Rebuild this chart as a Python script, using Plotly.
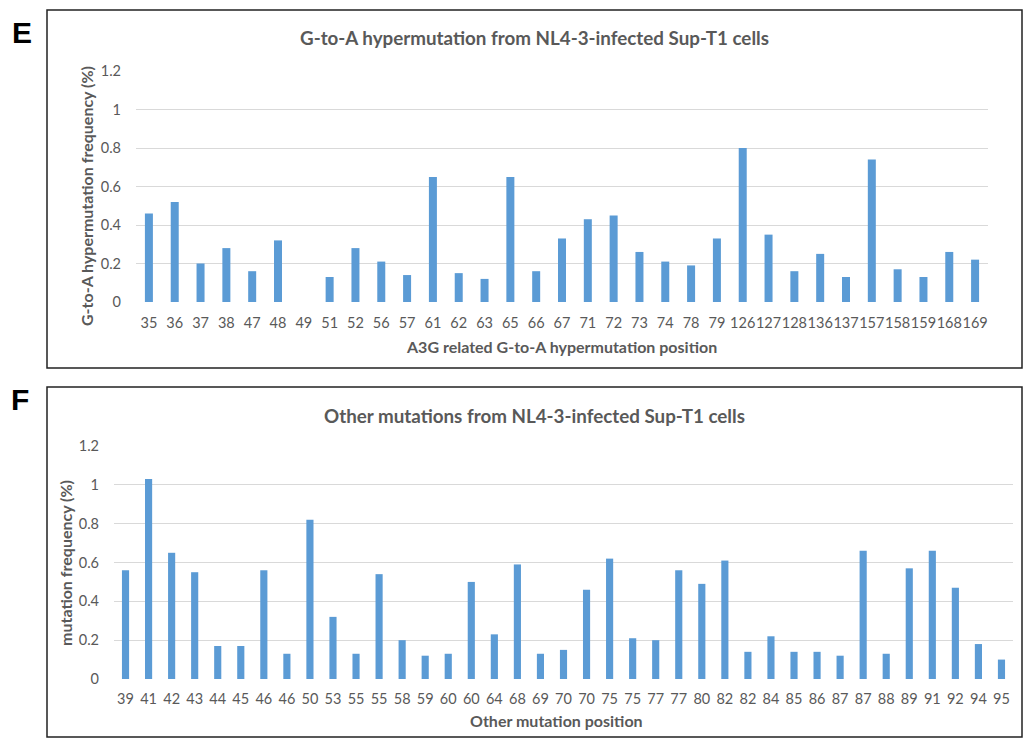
import plotly.graph_objects as go

# Panel E data
e_positions = ["35","36","37","38","47","48","49","51","52","56","57","61","62","63","65","66","67",
               "71","72","73","74","78","79","126","127","128","136","137","157","158","159","168","169"]
e_values = [0.46,0.52,0.20,0.28,0.16,0.32,0.0,0.13,0.28,0.21,0.14,0.65,0.15,0.12,0.65,0.16,0.33,
            0.43,0.45,0.26,0.21,0.19,0.33,0.80,0.35,0.16,0.25,0.13,0.74,0.17,0.13,0.26,0.22]

# Panel F data
f_positions = ["39","41","42","43","44","45","46","46","50","53","55","55","58","59","60","60","64",
               "68","69","70","70","75","75","77","77","80","82","82","84","85","86","87","87","88",
               "89","91","92","94","95"]
f_values = [0.56,1.03,0.65,0.55,0.17,0.17,0.56,0.13,0.82,0.32,0.13,0.54,0.20,0.12,0.13,0.50,0.23,
            0.59,0.13,0.15,0.46,0.62,0.21,0.20,0.56,0.49,0.61,0.14,0.22,0.14,0.14,0.12,0.66,0.13,
            0.57,0.66,0.47,0.18,0.10]

y_ticks = [0, 0.2, 0.4, 0.6, 0.8, 1.0, 1.2]
y_ticktext = ["0", "0.2", "0.4", "0.6", "0.8", "1", "1.2"]

W, H = 1027, 738
BAR = "#5b9bd5"
GRID = "#d9d9d9"
TXT = "#595959"
FONT = "Lato, 'Open Sans', sans-serif"

def px(x): return x / W
def py(y): return 1 - y / H

fig = go.Figure()
e_idx = list(range(len(e_positions)))
f_idx = list(range(len(f_positions)))
fig.add_trace(go.Bar(x=e_idx, y=e_values, marker_color=BAR, marker_line_width=0, width=0.31,
                     xaxis="x", yaxis="y", showlegend=False, hoverinfo="y"))
fig.add_trace(go.Bar(x=f_idx, y=f_values, marker_color=BAR, marker_line_width=0, width=0.31,
                     xaxis="x2", yaxis="y2", showlegend=False, hoverinfo="y"))

axis_common = dict(showline=False, zeroline=False, ticks="", automargin=False,
                   tickfont=dict(family=FONT, size=14.5, color=TXT))

fig.update_layout(
    width=W, height=H, margin=dict(l=0, r=0, t=0, b=0),
    paper_bgcolor="white", plot_bgcolor="white",
    font=dict(family=FONT, color=TXT),
    xaxis=dict(domain=[px(136), px(988)], anchor="y", range=[-0.5, len(e_positions) - 0.5],
               tickvals=e_idx, ticktext=e_positions, showgrid=False, ticklabelstandoff=10,
               tickangle=0, **axis_common),
    yaxis=dict(domain=[py(302), py(71)], anchor="x", range=[0, 1.2], tickvals=y_ticks,
               ticktext=y_ticktext, showgrid=True, gridcolor=GRID, gridwidth=1, ticklabelstandoff=14,
               **axis_common),
    xaxis2=dict(domain=[px(114), px(1013)], anchor="y2", range=[-0.5, len(f_positions) - 0.5],
                tickvals=f_idx, ticktext=f_positions, showgrid=False, ticklabelstandoff=9,
                tickangle=0, **axis_common),
    yaxis2=dict(domain=[py(679), py(446)], anchor="x2", range=[0, 1.2], tickvals=y_ticks,
                ticktext=y_ticktext, showgrid=True, gridcolor=GRID, gridwidth=1, ticklabelstandoff=14,
                **axis_common),
    bargap=0.69,
)

shapes = [
    dict(type="rect", xref="paper", yref="paper", x0=px(47), x1=px(1022), y0=py(368), y1=py(10),
         line=dict(color="#222222", width=1.5), fillcolor="rgba(0,0,0,0)", layer="below"),
    dict(type="rect", xref="paper", yref="paper", x0=px(47), x1=px(1022), y0=py(737), y1=py(387),
         line=dict(color="#222222", width=1.5), fillcolor="rgba(0,0,0,0)", layer="below"),
]
fig.update_layout(shapes=shapes)

ann = []
def text(x, y, s, size, bold=True, color=TXT, angle=0, family=FONT):
    ann.append(dict(x=px(x), y=py(y), xref="paper", yref="paper", text=(f"<b>{s}</b>" if bold else s),
                    showarrow=False, xanchor="center", yanchor="middle", textangle=angle,
                    font=dict(family=family, size=size, color=color)))

text(22, 32, "E", 30, color="black", family="Liberation Sans, Arial, sans-serif")
text(20, 400, "F", 30, color="black", family="Liberation Sans, Arial, sans-serif")
text(534, 38, "G-to-A hypermutation from NL4-3-infected Sup-T1 cells", 18.8)
text(561, 347, "A3G related G-to-A hypermutation position", 16)
text(86, 196, "G-to-A hypermutation frequency (%)", 16, angle=-90)
text(534, 415, "Other mutations from NL4-3-infected Sup-T1 cells", 18.8)
text(556, 720, "Other mutation position", 16)
text(65, 563, "mutation frequency (%)", 16, angle=-90)
fig.update_layout(annotations=ann)

fig.write_html("out.html", config={"displayModeBar": False},
               post_script="document.body.style.margin='0';document.body.style.overflow='hidden';")
